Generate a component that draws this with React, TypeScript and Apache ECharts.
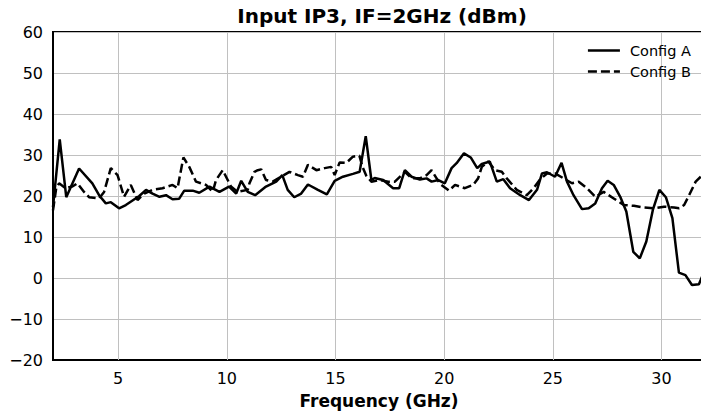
import React, { useEffect, useRef } from "react";
import * as echarts from "echarts";

const FONT = "'DejaVu Sans', sans-serif";

const titleText = "Input IP3, IF=2GHz (dBm)";
const xAxisTitle = "Frequency (GHz)";
const xTickValues = [5, 10, 15, 20, 25, 30];
const seriesNames = ["Config A", "Config B"];

const freqA = [2.0, 2.31, 2.61, 3.2, 3.81, 4.12, 4.43, 4.66, 5.04, 5.35, 5.97, 6.28, 6.58, 6.9, 7.2, 7.5, 7.8, 8.04, 8.43, 8.73, 9.2, 9.66, 10.1, 10.43, 10.66, 10.96, 11.3, 11.8, 12.27, 12.55, 12.8, 13.1, 13.42, 13.73, 14.19, 14.6, 14.96, 15.34, 15.8, 16.11, 16.39, 16.65, 16.8, 17.19, 17.65, 17.93, 18.19, 18.5, 18.88, 19.19, 19.42, 19.73, 20.03, 20.34, 20.57, 20.91, 21.22, 21.52, 21.73, 22.1, 22.42, 22.72, 23.03, 23.5, 23.9, 24.27, 24.5, 24.73, 25.1, 25.4, 25.65, 25.95, 26.34, 26.65, 26.95, 27.26, 27.52, 27.8, 28.1, 28.38, 28.7, 29.0, 29.3, 29.6, 29.9, 30.2, 30.5, 30.8, 31.1, 31.4, 31.72, 32.0];
const valA = [17.3, 33.8, 19.7, 26.7, 23.1, 20.2, 18.2, 18.5, 17.0, 17.8, 20.0, 21.5, 20.6, 19.8, 20.2, 19.2, 19.3, 21.3, 21.3, 20.8, 22.3, 21.0, 22.3, 20.6, 23.7, 21.0, 20.2, 22.3, 23.5, 25.1, 21.5, 19.7, 20.6, 22.8, 21.5, 20.4, 23.7, 24.7, 25.4, 25.9, 34.6, 23.9, 24.4, 23.9, 21.9, 21.9, 26.3, 24.7, 24.0, 24.3, 23.5, 23.9, 23.1, 26.8, 28.0, 30.4, 29.4, 26.8, 27.8, 28.4, 23.5, 24.1, 21.9, 20.2, 19.0, 21.5, 25.5, 25.8, 24.7, 28.1, 23.5, 20.2, 16.8, 17.0, 18.2, 21.9, 23.7, 22.7, 19.8, 16.2, 6.4, 4.8, 8.9, 16.6, 21.5, 19.7, 14.6, 1.3, 0.7, -1.7, -1.5, 2.0];

const freqB = [2.0, 2.15, 2.28, 2.58, 2.89, 3.12, 3.43, 3.66, 4.12, 4.35, 4.66, 4.97, 5.27, 5.58, 5.89, 6.2, 6.58, 7.04, 7.5, 7.73, 8.0, 8.27, 8.58, 9.04, 9.35, 9.5, 9.81, 10.19, 10.5, 10.96, 11.04, 11.27, 11.42, 11.58, 11.8, 12.11, 12.5, 12.88, 13.27, 13.5, 13.73, 14.12, 14.5, 14.8, 14.96, 15.19, 15.5, 15.8, 16.1, 16.24, 16.42, 16.65, 17.04, 17.42, 17.73, 18.19, 18.5, 18.88, 19.19, 19.42, 19.8, 20.22, 20.5, 20.95, 21.33, 21.56, 21.73, 22.03, 22.34, 22.65, 22.88, 23.34, 23.8, 24.11, 24.42, 24.73, 25.1, 25.5, 25.88, 26.19, 26.57, 26.96, 27.34, 27.8, 28.26, 28.73, 29.2, 29.66, 30.12, 30.58, 30.81, 31.04, 31.27, 31.57, 31.84, 32.0];
const valB = [16.5, 22.0, 23.1, 21.9, 22.3, 23.1, 21.0, 19.7, 19.4, 21.0, 26.8, 25.1, 19.8, 22.7, 19.0, 20.6, 21.5, 21.9, 22.7, 21.9, 29.4, 27.1, 23.5, 22.7, 21.0, 23.9, 26.3, 22.3, 21.0, 21.5, 23.1, 25.9, 26.3, 26.5, 23.9, 23.5, 24.7, 25.9, 25.1, 24.7, 27.6, 26.3, 26.8, 27.1, 25.1, 28.2, 28.1, 29.6, 29.8, 27.1, 24.9, 23.5, 23.9, 23.5, 23.5, 25.9, 24.3, 24.3, 25.1, 26.3, 23.0, 21.3, 22.7, 21.9, 22.7, 24.3, 27.1, 28.4, 26.3, 25.9, 24.3, 21.5, 20.2, 21.9, 24.1, 25.5, 25.5, 24.3, 23.1, 23.5, 21.9, 19.8, 21.0, 19.4, 17.8, 17.6, 17.2, 17.0, 17.4, 17.2, 17.0, 17.8, 20.2, 23.5, 24.9, 25.5];

const xMin = 2;
const xMax = 32;
const yMin = -20;
const yMax = 60;
const yStep = 10;

export default function App() {
  const ref = useRef<HTMLDivElement>(null);
  useEffect(() => {
    if (!ref.current) return;
    const chart = echarts.init(ref.current, null, { renderer: "svg" });
    const dataA = freqA.map((f, i) => [f, valA[i]]);
    const dataB = freqB.map((f, i) => [f, valB[i]]);
    chart.setOption({
      animation: false,
      backgroundColor: "#ffffff",
      textStyle: { fontFamily: FONT },
      title: {
        text: titleText,
        left: 377,
        textAlign: "center",
        top: 1,
        textStyle: { fontFamily: FONT, fontWeight: "bold", fontSize: 20, color: "#000" },
      },
      grid: {
        left: 53,
        top: 32,
        width: 652,
        height: 328,
        show: true,
        borderColor: "#000",
        borderWidth: 2,
        backgroundColor: "transparent",
        outerBoundsMode: "none",
        containLabel: false,
      },
      legend: {
        orient: "vertical",
        right: 5,
        top: 38,
        itemWidth: 32,
        itemHeight: 14,
        itemGap: 6,
        itemStyle: { opacity: 0 },
        lineStyle: { width: 2.5 },
        data: seriesNames,
        textStyle: { fontFamily: FONT, fontSize: 14.5, color: "#000", padding: [0, 0, 0, 5] },
      },
      xAxis: {
        type: "value",
        min: xMin,
        max: xMax,
        name: xAxisTitle,
        nameLocation: "middle",
        nameGap: 32,
        nameTextStyle: { fontFamily: FONT, fontWeight: "bold", fontSize: 17, color: "#000" },
        axisLine: { show: true, onZero: false, lineStyle: { color: "#000", width: 2 } },
        axisTick: { show: false, customValues: xTickValues },
        axisLabel: {
          customValues: xTickValues,
          margin: 10,
          fontFamily: FONT,
          fontSize: 16,
          color: "#000",
        },
        splitLine: { show: false },
      },
      yAxis: {
        type: "value",
        min: yMin,
        max: yMax,
        interval: yStep,
        axisLine: { show: true, onZero: false, lineStyle: { color: "#000", width: 2 } },
        axisTick: { show: false },
        axisLabel: {
          margin: 10,
          fontFamily: FONT,
          fontSize: 16,
          color: "#000",
          formatter: (v: number) => String(v).replace("-", "\u2212"),
        },
        splitLine: { show: true, lineStyle: { color: "#c0c0c0", width: 1 } },
      },
      series: [
        {
          name: seriesNames[0],
          type: "line",
          data: dataA,
          symbol: "none",
          z: 3,
          lineStyle: { color: "#000", width: 2.5, type: "solid" },
          itemStyle: { color: "#000" },
          markLine: {
            silent: true,
            symbol: "none",
            label: { show: false },
            lineStyle: { color: "#c0c0c0", width: 1, type: "solid" },
            data: xTickValues.map((v) => ({ xAxis: v })),
            z: 1,
          },
        },
        {
          name: seriesNames[1],
          type: "line",
          data: dataB,
          symbol: "none",
          z: 3,
          lineStyle: { color: "#000", width: 2.5, type: [9, 4] },
          itemStyle: { color: "#000" },
        },
      ],
    });
    return () => chart.dispose();
  }, []);
  return <div ref={ref} style={{ width: 701, height: 414, position: "absolute", left: 0, top: 0 }} />;
}
